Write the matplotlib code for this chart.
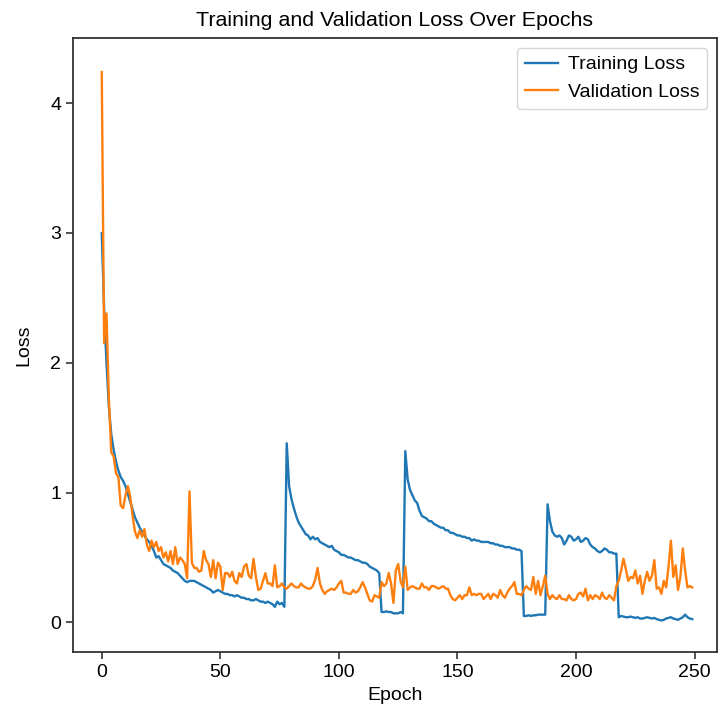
import matplotlib
matplotlib.use("Agg")
import matplotlib.pyplot as plt

plt.rcParams['font.family'] = ['Liberation Sans', 'DejaVu Sans']

epochs = list(range(250))

train_loss = [
    3.00, 2.42, 2.00, 1.66, 1.45, 1.33, 1.24, 1.17, 1.12, 1.09,
    1.05, 0.99, 0.93, 0.87, 0.81, 0.77, 0.73, 0.70, 0.67, 0.64,
    0.62, 0.59, 0.55, 0.50, 0.51, 0.48, 0.45, 0.44, 0.43, 0.42,
    0.40, 0.39, 0.38, 0.36, 0.34, 0.32, 0.31, 0.32, 0.32, 0.32,
    0.31, 0.30, 0.29, 0.28, 0.27, 0.26, 0.25, 0.23, 0.24, 0.25,
    0.24, 0.23, 0.22, 0.22, 0.21, 0.21, 0.20, 0.21, 0.20, 0.19,
    0.19, 0.18, 0.18, 0.17, 0.17, 0.18, 0.17, 0.16, 0.16, 0.15,
    0.16, 0.15, 0.14, 0.12, 0.16, 0.14, 0.15, 0.12, 1.38, 1.05,
    0.95, 0.88, 0.82, 0.77, 0.74, 0.71, 0.68, 0.67, 0.64, 0.66,
    0.64, 0.65, 0.62, 0.61, 0.60, 0.59, 0.58, 0.59, 0.56, 0.55,
    0.54, 0.52, 0.52, 0.51, 0.50, 0.50, 0.49, 0.48, 0.48, 0.47,
    0.46, 0.46, 0.45, 0.43, 0.42, 0.41, 0.40, 0.38, 0.08, 0.08,
    0.085, 0.08, 0.08, 0.07, 0.07, 0.07, 0.08, 0.07, 1.32, 1.10,
    1.02, 0.98, 0.94, 0.92, 0.86, 0.82, 0.81, 0.80, 0.78, 0.78,
    0.76, 0.75, 0.74, 0.73, 0.73, 0.71, 0.71, 0.69, 0.69, 0.68,
    0.67, 0.67, 0.66, 0.66, 0.65, 0.65, 0.63, 0.64, 0.63, 0.63,
    0.62, 0.62, 0.62, 0.62, 0.61, 0.61, 0.60, 0.60, 0.59, 0.59,
    0.58, 0.58, 0.58, 0.57, 0.57, 0.56, 0.56, 0.55, 0.05, 0.05,
    0.055, 0.05, 0.055, 0.055, 0.06, 0.06, 0.06, 0.06, 0.91, 0.78,
    0.70, 0.67, 0.66, 0.67, 0.65, 0.60, 0.63, 0.67, 0.66, 0.63,
    0.64, 0.66, 0.62, 0.63, 0.65, 0.64, 0.60, 0.58, 0.57, 0.55,
    0.54, 0.55, 0.57, 0.56, 0.54, 0.54, 0.53, 0.53, 0.04, 0.05,
    0.045, 0.04, 0.04, 0.045, 0.04, 0.035, 0.04, 0.03, 0.03, 0.035,
    0.04, 0.035, 0.03, 0.035, 0.025, 0.02, 0.015, 0.02, 0.03, 0.035,
    0.04, 0.03, 0.025, 0.02, 0.03, 0.04, 0.06, 0.04, 0.03, 0.025,
]

val_loss = [
    4.24, 2.15, 2.38, 1.72, 1.31, 1.28, 1.15, 1.12, 0.90, 0.88,
    0.98, 1.05, 0.97, 0.82, 0.70, 0.65, 0.71, 0.66, 0.72, 0.60,
    0.55, 0.63, 0.58, 0.62, 0.55, 0.58, 0.50, 0.54, 0.47, 0.55,
    0.45, 0.58, 0.45, 0.50, 0.48, 0.45, 0.34, 1.01, 0.46, 0.42,
    0.42, 0.39, 0.40, 0.55, 0.48, 0.45, 0.35, 0.48, 0.34, 0.46,
    0.43, 0.25, 0.38, 0.38, 0.35, 0.39, 0.32, 0.30, 0.38, 0.35,
    0.43, 0.45, 0.36, 0.34, 0.49, 0.35, 0.25, 0.26, 0.32, 0.38,
    0.30, 0.30, 0.28, 0.44, 0.27, 0.28, 0.30, 0.27, 0.26, 0.28,
    0.30, 0.28, 0.27, 0.27, 0.30, 0.28, 0.27, 0.26, 0.26, 0.28,
    0.33, 0.42, 0.30, 0.25, 0.22, 0.24, 0.25, 0.26, 0.25, 0.27,
    0.30, 0.32, 0.23, 0.23, 0.22, 0.22, 0.25, 0.23, 0.24, 0.27,
    0.31, 0.27, 0.22, 0.17, 0.16, 0.21, 0.20, 0.19, 0.31, 0.28,
    0.30, 0.38, 0.30, 0.15, 0.40, 0.45, 0.32, 0.27, 0.43, 0.25,
    0.27, 0.28, 0.27, 0.26, 0.26, 0.30, 0.27, 0.27, 0.25, 0.28,
    0.28, 0.27, 0.26, 0.27, 0.28, 0.26, 0.26, 0.21, 0.18, 0.17,
    0.19, 0.21, 0.18, 0.21, 0.21, 0.27, 0.21, 0.22, 0.21, 0.22,
    0.22, 0.18, 0.20, 0.22, 0.18, 0.22, 0.21, 0.19, 0.25, 0.21,
    0.19, 0.23, 0.26, 0.28, 0.31, 0.22, 0.22, 0.21, 0.25, 0.28,
    0.26, 0.25, 0.35, 0.22, 0.32, 0.21, 0.28, 0.36, 0.22, 0.18,
    0.21, 0.19, 0.18, 0.21, 0.18, 0.18, 0.17, 0.21, 0.18, 0.17,
    0.18, 0.22, 0.23, 0.20, 0.26, 0.17, 0.21, 0.18, 0.21, 0.20,
    0.18, 0.23, 0.19, 0.18, 0.21, 0.19, 0.17, 0.28, 0.32, 0.40,
    0.49, 0.41, 0.32, 0.35, 0.34, 0.40, 0.30, 0.36, 0.22, 0.32,
    0.39, 0.32, 0.36, 0.48, 0.26, 0.27, 0.22, 0.32, 0.27, 0.43,
    0.63, 0.35, 0.44, 0.25, 0.35, 0.57, 0.40, 0.27, 0.28, 0.27,
]

title = "Training and Validation Loss Over Epochs"
xlabel = "Epoch"
ylabel = "Loss"
xticks = [0, 50, 100, 150, 200, 250]
yticks = [0, 1, 2, 3, 4]

fig = plt.figure(figsize=(7.21, 7.09), dpi=100)
ax = fig.add_axes([0.101, 0.080, 0.893, 0.866])

ax.plot(epochs, train_loss, color='#1f77b4', lw=1.7, label='Training Loss')
ax.plot(epochs, val_loss, color='#ff7f0e', lw=1.7, label='Validation Loss')

ax.set_xlim(-12.2, 259.3)
ax.set_ylim(-0.23, 4.50)
ax.set_xticks(xticks)
ax.set_yticks(yticks)
ax.tick_params(labelsize=14, length=5, width=1.2, color='#333333')
for s in ax.spines.values():
    s.set_linewidth(1.3)
    s.set_color('#333333')

ax.set_title(title, fontsize=15.4, pad=9)
ax.set_xlabel(xlabel, fontsize=14)
ax.set_ylabel(ylabel, fontsize=14, labelpad=13)
ax.legend(loc='upper right', fontsize=14, handlelength=1.7, handletextpad=0.5)

fig.savefig('out.png', dpi=100)
